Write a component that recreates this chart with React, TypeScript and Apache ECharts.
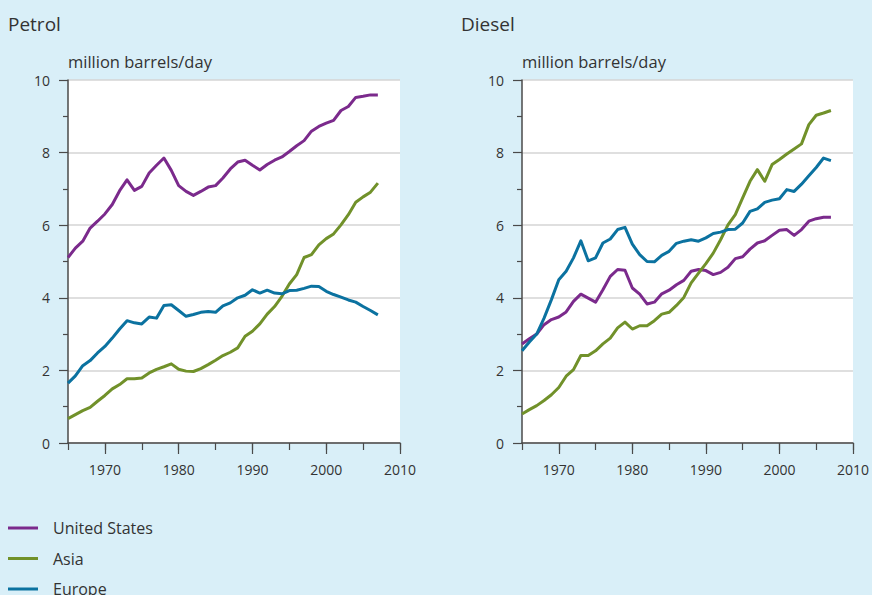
import React, { useEffect, useRef } from "react";
import * as echarts from "echarts";

const YEARS = [
  1965, 1966, 1967, 1968, 1969, 1970, 1971, 1972, 1973, 1974, 1975, 1976, 1977, 1978, 1979,
  1980, 1981, 1982, 1983, 1984, 1985, 1986, 1987, 1988, 1989, 1990, 1991, 1992, 1993, 1994,
  1995, 1996, 1997, 1998, 1999, 2000, 2001, 2002, 2003, 2004, 2005, 2006, 2007,
];

const PETROL_US = [
  5.11, 5.37, 5.56, 5.92, 6.11, 6.31, 6.57, 6.95, 7.25, 6.96, 7.07, 7.44, 7.65, 7.85, 7.51,
  7.09, 6.93, 6.82, 6.93, 7.05, 7.09, 7.3, 7.55, 7.74, 7.79, 7.65, 7.52, 7.67, 7.79, 7.88,
  8.03, 8.19, 8.33, 8.59, 8.72, 8.81, 8.89, 9.16, 9.27, 9.52, 9.55, 9.59, 9.59,
];
const PETROL_ASIA = [
  0.67, 0.78, 0.89, 0.98, 1.15, 1.31, 1.49, 1.61, 1.77, 1.77, 1.79, 1.93, 2.03, 2.1, 2.18,
  2.03, 1.98, 1.97, 2.05, 2.16, 2.28, 2.41, 2.5, 2.62, 2.94, 3.08, 3.28, 3.55, 3.76, 4.04,
  4.38, 4.64, 5.11, 5.19, 5.46, 5.63, 5.76, 6.01, 6.29, 6.63, 6.78, 6.91, 7.16,
];
const PETROL_EUROPE = [
  1.65, 1.85, 2.13, 2.27, 2.48, 2.66, 2.89, 3.14, 3.37, 3.31, 3.28, 3.47, 3.44, 3.79, 3.81,
  3.65, 3.49, 3.54, 3.6, 3.62, 3.6, 3.78, 3.86, 4.0, 4.07, 4.22, 4.13, 4.21, 4.13, 4.11,
  4.2, 4.21, 4.26, 4.32, 4.31, 4.18, 4.09, 4.02, 3.94, 3.88, 3.76, 3.65, 3.53,
];

const DIESEL_US = [
  2.73, 2.87, 3.0, 3.26, 3.4, 3.47, 3.61, 3.9, 4.1, 3.99, 3.88, 4.22, 4.59, 4.78, 4.76,
  4.27, 4.1, 3.83, 3.88, 4.11, 4.21, 4.36, 4.48, 4.73, 4.78, 4.75, 4.64, 4.7, 4.84, 5.08,
  5.13, 5.34, 5.51, 5.57, 5.72, 5.86, 5.88, 5.72, 5.88, 6.11, 6.18, 6.22, 6.22,
];
const DIESEL_ASIA = [
  0.8, 0.92, 1.03, 1.17, 1.33, 1.53, 1.84, 2.02, 2.41, 2.41, 2.54, 2.73, 2.89, 3.17, 3.33,
  3.14, 3.23, 3.23, 3.37, 3.55, 3.6, 3.79, 4.01, 4.41, 4.68, 4.94, 5.23, 5.6, 6.01, 6.29,
  6.75, 7.21, 7.53, 7.21, 7.67, 7.81, 7.96, 8.1, 8.24, 8.77, 9.03, 9.09, 9.16,
];
const DIESEL_EUROPE = [
  2.54, 2.78, 3.0, 3.44, 3.95, 4.5, 4.73, 5.1, 5.57, 5.02, 5.1, 5.51, 5.62, 5.88, 5.94,
  5.48, 5.19, 5.0, 4.99, 5.17, 5.28, 5.5, 5.56, 5.6, 5.56, 5.65, 5.77, 5.81, 5.88, 5.89,
  6.06, 6.38, 6.45, 6.63, 6.69, 6.73, 6.98, 6.93, 7.13, 7.36, 7.59, 7.85, 7.78,
];

const X_LABELS = [1970, 1980, 1990, 2000, 2010];
const SERIES_NAMES = ["United States", "Asia", "Europe"];
const PANEL_TITLES = ["Petrol", "Diesel"];
const UNIT_LABEL = "million barrels/day";

const COLORS = ["#7b2a8c", "#71912a", "#0b72a0"];
const FONT = "'Open Sans', 'Noto Sans', sans-serif";
const AXIS_COLOR = "#4a4a4a";
const TEXT_COLOR = "#333333";

export default function App() {
  const ref = useRef<HTMLDivElement>(null);

  useEffect(() => {
    if (!ref.current) return;
    const chart = echarts.init(ref.current, null, { renderer: "svg" });

    const pair = (vals: number[]) => YEARS.map((y, i) => [y, vals[i]]);
    const grids = [
      { left: 68, top: 80, width: 332, height: 363 },
      { left: 522, top: 80, width: 332, height: 363 },
    ];

    const xAxes: any[] = [];
    const yAxes: any[] = [];
    grids.forEach((_, gi) => {
      xAxes.push({
        type: "value",
        gridIndex: gi,
        min: 1965,
        max: 2010,
        interval: 5,
        position: "bottom",
        axisLine: { show: true, onZero: false, lineStyle: { color: AXIS_COLOR, width: 1.5 } },
        axisTick: { show: true, length: 7, lineStyle: { color: AXIS_COLOR, width: 1.2 } },
        axisLabel: {
          show: true,
          customValues: X_LABELS,
          margin: 19,
          color: TEXT_COLOR,
          fontSize: 14,
          fontFamily: FONT,
          formatter: (v: number) => String(v),
        },
        splitLine: { show: false },
      });
      xAxes.push({
        type: "value",
        gridIndex: gi,
        min: 1965,
        max: 2010,
        interval: 5,
        position: "bottom",
        axisLine: { show: false, onZero: false },
        axisTick: {
          show: true,
          customValues: X_LABELS,
          length: 11,
          lineStyle: { color: AXIS_COLOR, width: 1.2 },
        },
        axisLabel: { show: false },
        splitLine: { show: false },
      });
      yAxes.push({
        type: "value",
        gridIndex: gi,
        min: 0,
        max: 10,
        interval: 2,
        axisLine: { show: true, lineStyle: { color: AXIS_COLOR, width: 1.5 } },
        axisTick: { show: true, length: 9, lineStyle: { color: AXIS_COLOR, width: 1.2 } },
        minorTick: { show: true, splitNumber: 2, length: 5, lineStyle: { color: AXIS_COLOR, width: 1.2 } },
        axisLabel: {
          margin: 18,
          color: TEXT_COLOR,
          fontSize: 14,
          fontFamily: FONT,
        },
        splitLine: { show: true, lineStyle: { color: "#d5d5d5", width: 1.5 } },
      });
    });

    const panelData = [
      [PETROL_US, PETROL_ASIA, PETROL_EUROPE],
      [DIESEL_US, DIESEL_ASIA, DIESEL_EUROPE],
    ];
    const series: any[] = [];
    panelData.forEach((arrs, gi) => {
      arrs.forEach((vals, si) => {
        series.push({
          type: "line",
          name: SERIES_NAMES[si],
          xAxisIndex: gi * 2,
          yAxisIndex: gi,
          data: pair(vals),
          showSymbol: false,
          symbol: "none",
          color: COLORS[si],
          lineStyle: { width: 3, color: COLORS[si], join: "round" },
          z: 3,
        });
      });
    });

    const graphics: any[] = [];
    PANEL_TITLES.forEach((t, i) => {
      graphics.push({
        type: "text",
        x: i === 0 ? 8 : 461,
        y: 23.5,
        style: {
          text: t,
          fill: TEXT_COLOR,
          font: `19px ${FONT}`,
          verticalAlign: "middle",
          align: "left",
        },
      });
      graphics.push({
        type: "text",
        x: grids[i].left,
        y: 61.7,
        style: {
          text: UNIT_LABEL,
          fill: TEXT_COLOR,
          font: `16.5px ${FONT}`,
          verticalAlign: "middle",
          align: "left",
        },
      });
    });

    chart.setOption({
      animation: false,
      backgroundColor: "#d9eff8",
      grid: grids.map((g) => ({
        ...g,
        show: true,
        backgroundColor: "#ffffff",
        borderWidth: 0,
        containLabel: false,
      })),
      xAxis: xAxes,
      yAxis: yAxes,
      legend: {
        data: SERIES_NAMES,
        orient: "vertical",
        left: 3,
        top: 515,
        height: 200,
        itemWidth: 30,
        itemHeight: 3,
        itemGap: 14.5,
        icon: "rect",
        textStyle: {
          color: TEXT_COLOR,
          fontSize: 16,
          fontFamily: FONT,
          padding: [0, 0, 0, 10],
        },
      },
      graphic: graphics,
      series,
    });

    return () => chart.dispose();
  }, []);

  return (
    <div
      ref={ref}
      style={{ position: "absolute", left: 0, top: 0, width: 872, height: 595 }}
    />
  );
}
